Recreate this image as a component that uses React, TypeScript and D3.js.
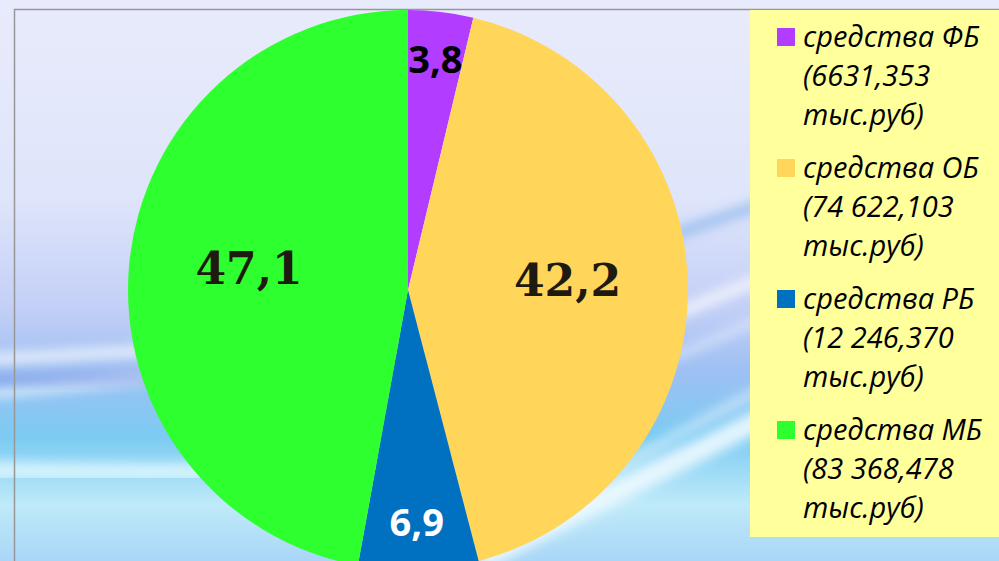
import { useEffect, useRef } from "react";
import * as d3 from "d3";

// ── Data ───────────────────────────────────────────────────────
const sources = ["ФБ", "ОБ", "РБ", "МБ"];
const amounts = [6631.353, 74622.103, 12246.37, 83368.478]; // тыс.руб
const amountLabels = ["6631,353", "74 622,103", "12 246,370", "83 368,478"];
const percentLabels = ["3,8", "42,2", "6,9", "47,1"];
const sliceColors = ["#b23cff", "#ffd55a", "#0070c0", "#2eff2e"];

const W = 999;
const H = 561;

export default function App() {
  const svgRef = useRef<SVGSVGElement>(null);

  useEffect(() => {
    if (!svgRef.current) return;
    const svg = d3.select(svgRef.current);
    svg.selectAll("*").remove();

    const defs = svg.append("defs");

    // ── Background (slide picture approximation) ───────────────
    const bg = defs.append("linearGradient")
      .attr("id", "bg").attr("x1", 0).attr("y1", 0).attr("x2", 0).attr("y2", 1);
    [
      [0, "#e8ebfb"], [0.35, "#dfe5fa"], [0.55, "#c3cff6"], [0.66, "#9ec0f2"],
      [0.78, "#7ccbf2"], [0.9, "#bfeaf9"], [1, "#a9d6f7"],
    ].forEach(([o, c]) => bg.append("stop").attr("offset", o as number).attr("stop-color", c as string));

    defs.append("filter").attr("id", "blur")
      .attr("x", "-20%").attr("y", "-50%").attr("width", "140%").attr("height", "200%")
      .append("feGaussianBlur").attr("stdDeviation", 6);

    svg.append("rect").attr("width", W).attr("height", H).attr("fill", "url(#bg)");

    const swooshes: [string, string, number, number][] = [
      ["M-20,360 C150,350 300,345 460,330", "#ffffff", 10, 0.8],
      ["M-20,395 C150,380 300,360 470,345", "#ffffff", 8, 0.7],
      ["M-20,380 C200,380 320,370 460,360", "#6f80e0", 8, 0.5],
      ["M-20,470 C200,475 350,470 500,460", "#e6fbff", 16, 0.8],
      ["M480,560 C600,500 700,450 780,410", "#eefaff", 22, 0.9],
      ["M480,540 C600,480 700,420 780,380", "#ffffff", 8, 0.6],
      ["M660,240 C700,225 730,215 760,205", "#6aa6e8", 8, 0.7],
      ["M660,320 C700,305 730,290 760,280", "#ffffff", 10, 0.8],
      ["M660,360 C700,350 730,330 760,320", "#ffffff", 6, 0.6],
    ];
    swooshes.forEach(([d, c, w, o]) => {
      svg.append("path").attr("d", d).attr("fill", "none")
        .attr("stroke", c).attr("stroke-width", w).attr("opacity", o)
        .attr("filter", "url(#blur)");
    });

    // frame line
    svg.append("path")
      .attr("d", `M14.5,${H} V9.5 H${W}`)
      .attr("fill", "none").attr("stroke", "#979797").attr("stroke-width", 1.5);

    // ── Pie ────────────────────────────────────────────────────
    const cx = 408;
    const cy = 290;
    const R = 280;

    const data = sources.map((s, i) => ({ source: s, value: amounts[i], i }));
    const pie = d3.pie<typeof data[number]>().sort(null).value((d) => d.value);
    const arcs = pie(data);
    const arc = d3.arc<d3.PieArcDatum<typeof data[number]>>().innerRadius(0).outerRadius(R);

    const g = svg.append("g").attr("transform", `translate(${cx},${cy})`);
    g.selectAll("path.slice").data(arcs).join("path")
      .attr("class", "slice")
      .attr("d", arc)
      .attr("fill", (d) => sliceColors[d.data.i]);

    // labels: small slices near the rim in sans, big ones inside in serif
    arcs.forEach((a) => {
      const small = a.data.value / d3.sum(amounts) < 0.1;
      const r = small ? R * 0.83 : R * 0.57;
      const mid = (a.startAngle + a.endAngle) / 2;
      const x = Math.sin(mid) * r;
      const y = -Math.cos(mid) * r;
      const t = g.append("text")
        .attr("x", x)
        .attr("text-anchor", "middle")
        .attr("font-weight", "bold")
        .text(percentLabels[a.data.i]);
      if (small) {
        t.attr("y", y + 14)
          .attr("font-family", "'Open Sans', sans-serif")
          .attr("font-size", 38)
          .attr("fill", a.data.i === 2 ? "#ffffff" : "#000000");
      } else {
        t.attr("y", y + 8)
          .attr("font-family", "'DejaVu Serif', serif")
          .attr("font-size", 44)
          .attr("fill", "#1f1a10");
      }
    });

    // ── Legend ─────────────────────────────────────────────────
    const lg = svg.append("g");
    lg.append("rect")
      .attr("x", 750).attr("y", 10).attr("width", W - 750).attr("height", 527)
      .attr("fill", "#ffff9c");

    const itemY = d3.scalePoint<string>().domain(sources).range([47, 440]);
    sources.forEach((s, i) => {
      const y0 = itemY(s)!;
      lg.append("rect")
        .attr("x", 777).attr("y", y0 - 19).attr("width", 18).attr("height", 18)
        .attr("fill", sliceColors[i]);
      const lines = [`средства ${s}`, `(${amountLabels[i]}`, "тыс.руб)"];
      lines.forEach((ln, j) => {
        lg.append("text")
          .attr("x", 803).attr("y", y0 + j * 39)
          .attr("font-family", "'Open Sans', sans-serif")
          .attr("font-style", "italic")
          .attr("font-size", 29)
          .attr("fill", "#000000")
          .text(ln);
      });
    });
  }, []);

  return (
    <svg
      ref={svgRef}
      width={W}
      height={H}
      viewBox={`0 0 ${W} ${H}`}
      style={{ position: "absolute", left: 0, top: 0, display: "block" }}
    />
  );
}
